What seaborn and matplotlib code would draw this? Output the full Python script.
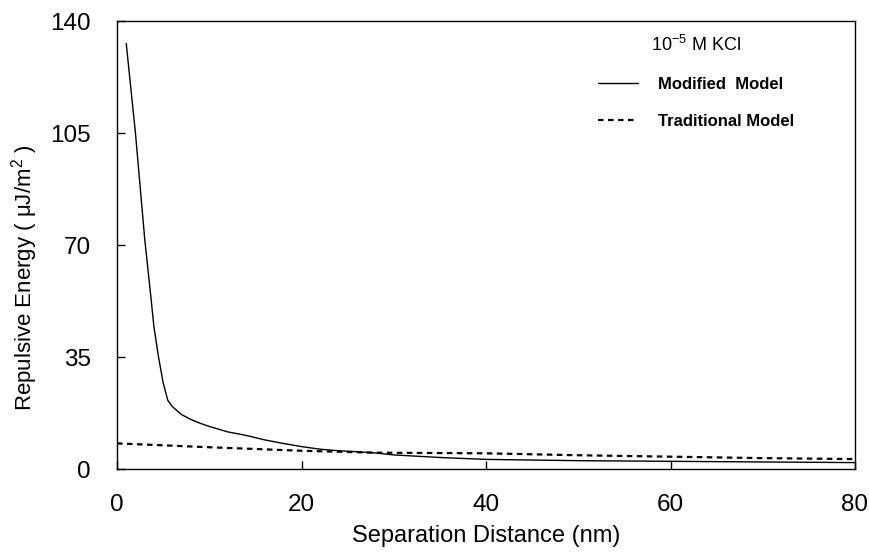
import pandas as pd
import numpy as np
import matplotlib
matplotlib.use("Agg")
import matplotlib.pyplot as plt
import seaborn as sns

# data
mod_x = [1, 2, 3, 3.7, 4, 4.5, 5, 5.5, 6, 7, 8, 9, 10, 12, 14, 16, 18, 20,
         22, 24, 26, 28, 30, 35, 40, 45, 50, 55, 60, 65, 70, 75, 80]
mod_y = [133, 105, 72, 53, 44.5, 35, 27, 21.5, 19.5, 17, 15.5, 14.3, 13.3,
         11.6, 10.5, 9.1, 8.0, 7.0, 6.2, 5.7, 5.4, 5.0, 4.4, 3.6, 3.0, 2.8,
         2.6, 2.5, 2.4, 2.3, 2.2, 2.1, 2.0]

trad_x = [0, 10, 20, 28, 40, 50, 60, 70, 80]
trad_y = [8.0, 6.8, 5.7, 5.1, 4.9, 4.3, 3.85, 3.4, 3.1]

x_ticks = [0, 20, 40, 60, 80]
y_ticks = [0, 35, 70, 105, 140]

sns.set_style("ticks")
plt.rcParams['font.family'] = ['Liberation Sans', 'DejaVu Sans']
plt.rcParams['mathtext.fontset'] = 'custom'
plt.rcParams['mathtext.rm'] = 'Liberation Sans'
plt.rcParams['mathtext.it'] = 'Liberation Sans'
for k in ['text.color', 'axes.labelcolor', 'xtick.color', 'ytick.color']:
    plt.rcParams[k] = 'black'

fig = plt.figure(figsize=(8.69, 5.6), dpi=100)
ax = fig.add_axes([117 / 869, 91 / 560, 738 / 869, 448 / 560])

sns.lineplot(x=mod_x, y=mod_y, ax=ax, color='black', lw=1.0,
             label='Modified  Model')
sns.lineplot(x=trad_x, y=trad_y, ax=ax, color='black', lw=1.6,
             dashes=False, label='Traditional Model')
ax.lines[1].set_dashes((2.5, 2))

ax.set_xlim(0, 80)
ax.set_ylim(0, 140)
ax.set_xticks(x_ticks)
ax.set_yticks(y_ticks)

for s in ax.spines.values():
    s.set_linewidth(1.0)
    s.set_color('black')
ax.tick_params(direction='in', length=6, width=1, labelsize=17.5, color='black')
ax.tick_params(axis='x', pad=18)
ax.tick_params(axis='y', pad=19)

ax.set_xlabel('Separation Distance (nm)', fontsize=17)
ax.set_ylabel('Repulsive Energy ( μJ/m$^2$ )', fontsize=16)
ax.xaxis.set_label_coords(0.5, -0.125)
ax.yaxis.set_label_coords(-0.105, 0.426)

leg = ax.legend(loc='upper left', bbox_to_anchor=(0.652, 0.968),
                frameon=False, borderpad=0, borderaxespad=0,
                handlelength=2.4, handletextpad=1.2, labelspacing=1.3,
                prop={'weight': 'bold', 'size': 12},
                title='10$^{-5}$ M KCl', title_fontproperties={'size': 13})

fig.savefig('out.png', dpi=100)
